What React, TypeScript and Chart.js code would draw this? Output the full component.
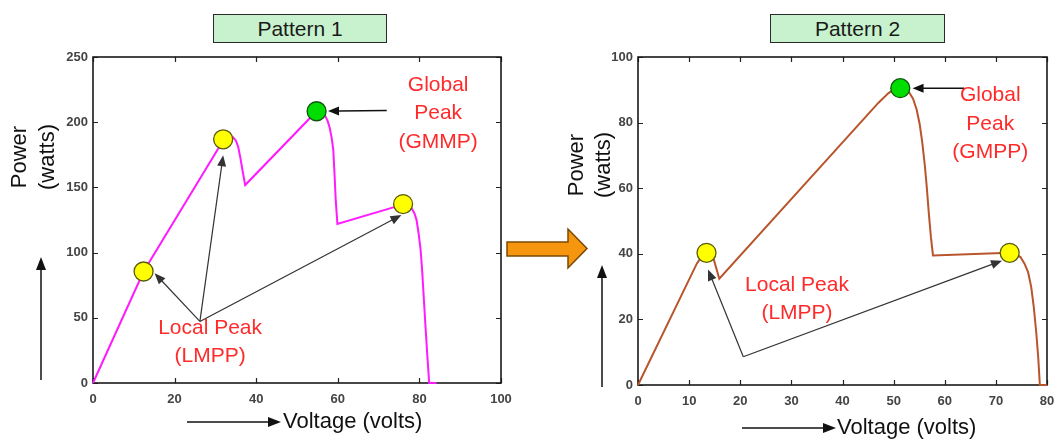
import React, { useEffect, useRef } from 'react';
import { Chart, registerables } from 'chart.js';

Chart.register(...registerables);

// ---------- Pattern 1 (P-V curve) ----------
const pattern1Voltage = [0, 12.4, 30.7, 31.9, 33.2, 34.3, 35.0, 35.6, 36.1, 36.7, 37.3, 54.8, 55.8, 56.8, 57.5, 58.0, 58.5, 58.9, 59.2, 59.5, 59.9, 73.6, 76.0, 77.2, 78.1, 78.8, 79.3, 79.8, 80.3, 80.7, 81.1, 81.5, 81.9, 82.4, 84.2];
const pattern1Power = [0, 85.5, 179.8, 186.9, 189.5, 188.6, 186, 181, 173, 162, 151.8, 208.4, 207.5, 205.4, 201, 196, 188, 178.6, 160, 140, 122, 134.7, 137.2, 136.5, 134, 130, 125, 115, 102, 85, 63.8, 43, 23, 0, 0];
const pattern1PeakVoltage = [12.4, 31.9, 54.8, 76.0];
const pattern1PeakPower = [85.5, 186.9, 208.4, 137.2];
const pattern1PeakKind = ['local', 'local', 'global', 'local'];
const pattern1XTicks = { min: 0, max: 100, step: 20 };
const pattern1YTicks = { min: 0, max: 250, step: 50 };

// ---------- Pattern 2 (P-V curve) ----------
const pattern2Voltage = [0, 11.5, 12.6, 13.4, 14.6, 15.9, 47.0, 49.0, 50.3, 51.3, 52.2, 53.0, 53.8, 54.5, 55.1, 55.6, 56.1, 56.5, 56.9, 57.3, 57.7, 72.7, 73.8, 74.8, 75.6, 76.3, 76.9, 77.4, 77.9, 78.3, 78.6, 80];
const pattern2Power = [0, 37.0, 39.6, 40.3, 39.5, 32.4, 86.0, 89.0, 90.3, 90.5, 90.3, 89.3, 87.3, 84.0, 79.5, 74.0, 67.0, 60.0, 52.0, 45.0, 39.5, 40.3, 40.0, 39.0, 37.0, 34.4, 30.0, 24.0, 16.0, 8.0, 0, 0];
const pattern2PeakVoltage = [13.4, 51.3, 72.7];
const pattern2PeakPower = [40.3, 90.5, 40.3];
const pattern2PeakKind = ['local', 'global', 'local'];
const pattern2XTicks = { min: 0, max: 80, step: 10 };
const pattern2YTicks = { min: 0, max: 100, step: 20 };

// ---------- text ----------
const yTitle = ['Power', '(watts)'];
const xTitle = 'Voltage (volts)';
const pattern1Title = 'Pattern 1';
const pattern2Title = 'Pattern 2';
const pattern1GlobalText = ['Global', 'Peak', '(GMMP)'];
const pattern2GlobalText = ['Global', 'Peak', '(GMPP)'];
const localText = ['Local Peak', '(LMPP)'];

const FONT = "'Liberation Sans', Arial, Helvetica, sans-serif";

function arrow(ctx: CanvasRenderingContext2D, x1: number, y1: number, x2: number, y2: number, color: string, lw: number, head: number, half: number) {
  const ang = Math.atan2(y2 - y1, x2 - x1);
  const c = Math.cos(ang), s = Math.sin(ang);
  const bx = x2 - head * c, by = y2 - head * s;
  ctx.save();
  ctx.strokeStyle = color;
  ctx.fillStyle = color;
  ctx.lineWidth = lw;
  ctx.beginPath();
  ctx.moveTo(x1, y1);
  ctx.lineTo(bx + c * 1, by + s * 1);
  ctx.stroke();
  ctx.beginPath();
  ctx.moveTo(x2, y2);
  ctx.lineTo(bx - half * s, by + half * c);
  ctx.lineTo(bx + half * s, by - half * c);
  ctx.closePath();
  ctx.fill();
  ctx.restore();
}

const figurePlugin = {
  id: 'figure',
  beforeDatasetsDraw(chart: any, _args: any, o: any) {
    const { ctx, chartArea: a, scales } = chart;
    const x = scales.x, y = scales.y;
    ctx.save();
    ctx.strokeStyle = '#222';
    ctx.lineWidth = 1.2;
    ctx.beginPath();
    x.ticks.forEach((t: any) => {
      const px = Math.round(x.getPixelForValue(t.value)) + 0.5;
      ctx.moveTo(px, a.bottom); ctx.lineTo(px, a.bottom - 5);
      ctx.moveTo(px, a.top); ctx.lineTo(px, a.top + 5);
    });
    y.ticks.forEach((t: any) => {
      const py = Math.round(y.getPixelForValue(t.value)) + 0.5;
      ctx.moveTo(a.left, py); ctx.lineTo(a.left + 5, py);
      ctx.moveTo(a.right, py); ctx.lineTo(a.right - 5, py);
    });
    ctx.stroke();
    ctx.lineWidth = 1.6;
    ctx.strokeStyle = '#1a1a1a';
    ctx.strokeRect(a.left, a.top, a.right - a.left, a.bottom - a.top);
    ctx.restore();
  },
  afterDatasetsDraw(chart: any, _args: any, o: any) {
    const { ctx, scales } = chart;
    const x = scales.x, y = scales.y;
    // y axis title (rotated, two lines) + up arrow
    ctx.save();
    ctx.fillStyle = '#111';
    ctx.font = `22px ${FONT}`;
    ctx.textAlign = 'center';
    ctx.textBaseline = 'middle';
    o.yTitleX.forEach((tx: number, i: number) => {
      ctx.save();
      ctx.translate(tx, o.yTitleY);
      ctx.rotate(-Math.PI / 2);
      ctx.fillText(yTitle[i], 0, 0);
      ctx.restore();
    });
    ctx.restore();
    arrow(ctx, o.upArrow[0], o.upArrow[1], o.upArrow[0], o.upArrow[2], '#111', 1.5, 13, 5);
    // x axis title with arrow
    arrow(ctx, o.rightArrow[0], o.rightArrow[2], o.rightArrow[1], o.rightArrow[2], '#111', 1.5, 13, 5);
    ctx.save();
    ctx.fillStyle = '#111';
    ctx.font = `22px ${FONT}`;
    ctx.textAlign = 'left';
    ctx.textBaseline = 'middle';
    ctx.fillText(xTitle, o.xTitleX, o.rightArrow[2]);
    ctx.restore();
    // annotation arrows
    const g = o.globalArrow;
    arrow(ctx, x.getPixelForValue(g[0]), y.getPixelForValue(g[1]), x.getPixelForValue(g[2]), y.getPixelForValue(g[3]), '#111', 1.5, 11, 4.5);
    const from = o.localFrom;
    o.localTips.forEach((tip: number[]) => {
      arrow(ctx, x.getPixelForValue(from[0]), y.getPixelForValue(from[1]), x.getPixelForValue(tip[0]), y.getPixelForValue(tip[1]), '#333', 1.2, 11, 4.5);
    });
    // red texts
    ctx.save();
    ctx.fillStyle = '#ff2a2a';
    ctx.font = `21px ${FONT}`;
    ctx.textAlign = 'center';
    ctx.textBaseline = 'middle';
    const gx = x.getPixelForValue(o.globalTextAt[0]);
    const gy = y.getPixelForValue(o.globalTextAt[1]);
    o.globalText.forEach((t: string, i: number) => ctx.fillText(t, gx, gy + i * o.lineGap));
    const lx = x.getPixelForValue(o.localTextAt[0]);
    const ly = y.getPixelForValue(o.localTextAt[1]);
    localText.forEach((t: string, i: number) => ctx.fillText(t, lx, ly + i * o.lineGap));
    ctx.restore();
  },
};

function makeConfig(p: any) {
  const curve = p.volt.map((v: number, i: number) => ({ x: v, y: p.power[i] }));
  const peaks = p.peakV.map((v: number, i: number) => ({ x: v, y: p.peakP[i] }));
  const fills = p.kind.map((k: string) => (k === 'global' ? '#00dd00' : '#ffff00'));
  const borders = p.kind.map((k: string) => (k === 'global' ? '#115511' : '#5a5a10'));
  const tickFont = { family: FONT, size: 13, weight: 'bold' as const };
  return {
    type: 'scatter' as const,
    data: {
      datasets: [
        {
          data: peaks,
          pointRadius: 9.5,
          pointBackgroundColor: fills,
          pointBorderColor: borders,
          pointBorderWidth: 1.3,
          showLine: false,
          order: 0,
          clip: false,
        },
        {
          data: curve,
          showLine: true,
          borderColor: p.color,
          borderWidth: 2,
          pointRadius: 0,
          tension: 0,
          order: 1,
          clip: false,
        },
      ],
    },
    options: {
      animation: false,
      responsive: false,
      maintainAspectRatio: false,
      events: [],
      layout: { padding: { left: 0, right: p.padRight, top: p.padTop, bottom: 0 } },
      plugins: {
        legend: { display: false },
        tooltip: { enabled: false },
        figure: p.fig,
      },
      scales: {
        x: {
          type: 'linear' as const,
          min: p.xt.min,
          max: p.xt.max,
          ticks: { stepSize: p.xt.step, font: tickFont, color: '#444', padding: 9, maxRotation: 0 },
          grid: { display: false, drawTicks: false },
          border: { display: false },
          afterFit: (s: any) => { s.height = p.xHeight; s.paddingLeft = 0; s.paddingRight = 0; },
        },
        y: {
          type: 'linear' as const,
          min: p.yt.min,
          max: p.yt.max,
          ticks: { stepSize: p.yt.step, font: tickFont, color: '#444', padding: 5 },
          grid: { display: false, drawTicks: false },
          border: { display: false },
          afterFit: (s: any) => { s.width = p.yWidth; s.paddingTop = 0; s.paddingBottom = 0; },
        },
      },
    },
    plugins: [figurePlugin],
  };
}

export default function App() {
  const ref1 = useRef<HTMLCanvasElement>(null);
  const ref2 = useRef<HTMLCanvasElement>(null);

  useEffect(() => {
    const c1 = new Chart(ref1.current as HTMLCanvasElement, makeConfig({
      volt: pattern1Voltage, power: pattern1Power,
      peakV: pattern1PeakVoltage, peakP: pattern1PeakPower, kind: pattern1PeakKind,
      xt: pattern1XTicks, yt: pattern1YTicks,
      color: '#ff1aff',
      padRight: 19, padTop: 57, xHeight: 59, yWidth: 93,
      fig: {
        yTitleX: [20, 48], yTitleY: 157,
        upArrow: [41, 380, 257],
        rightArrow: [187, 281, 422], xTitleX: 283,
        globalArrow: [72, 209, 57.6, 208.6],
        localFrom: [26.2, 47.2],
        localTips: [[15.1, 84.2], [31.9, 174.7], [75.6, 128.8]],
        globalText: pattern1GlobalText, globalTextAt: [84.6, 228.5],
        localTextAt: [28.7, 42.2],
        lineGap: 28.5,
      },
    }) as any);
    const c2 = new Chart(ref2.current as HTMLCanvasElement, makeConfig({
      volt: pattern2Voltage, power: pattern2Power,
      peakV: pattern2PeakVoltage, peakP: pattern2PeakPower, kind: pattern2PeakKind,
      xt: pattern2XTicks, yt: pattern2YTicks,
      color: '#b8552c',
      padRight: 11, padTop: 57, xHeight: 57, yWidth: 118,
      fig: {
        yTitleX: [57, 84], yTitleY: 165,
        upArrow: [82, 387, 265],
        rightArrow: [222, 316, 428], xTitleX: 317,
        globalArrow: [63.8, 90.5, 53.7, 90.5],
        localFrom: [20.6, 8.6],
        localTips: [[13.7, 35.2], [71.2, 37.9]],
        globalText: pattern2GlobalText, globalTextAt: [68.9, 88.3],
        localTextAt: [31.1, 30.5],
        lineGap: 28.5,
      },
    }) as any);
    return () => { c1.destroy(); c2.destroy(); };
  }, []);

  const boxStyle = (left: number, width: number): React.CSSProperties => ({
    position: 'absolute', left, top: 14, width, height: 29, boxSizing: 'border-box',
    background: '#c8f2cd', border: '1.5px solid #2a2a2a', fontFamily: FONT, fontSize: 21,
    color: '#1a1a1a', display: 'flex', alignItems: 'center', justifyContent: 'center', lineHeight: 1,
  });

  return (
    <div style={{ position: 'absolute', left: 0, top: 0, width: 1058, height: 442, background: '#fff', overflow: 'hidden' }}>
      <canvas ref={ref1} width={520} height={442} style={{ position: 'absolute', left: 0, top: 0, width: 520, height: 442 }} />
      <canvas ref={ref2} width={538} height={442} style={{ position: 'absolute', left: 520, top: 0, width: 538, height: 442 }} />
      <svg width={1058} height={442} style={{ position: 'absolute', left: 0, top: 0, pointerEvents: 'none' }}>
        <polygon points="507,242 568,242 568,229 587,248.5 568,268 568,256 507,256" fill="#f6960f" stroke="#7a4a05" strokeWidth={1.5} strokeLinejoin="miter" />
      </svg>
      <div style={boxStyle(213, 174)}>{pattern1Title}</div>
      <div style={boxStyle(770, 175)}>{pattern2Title}</div>
    </div>
  );
}
